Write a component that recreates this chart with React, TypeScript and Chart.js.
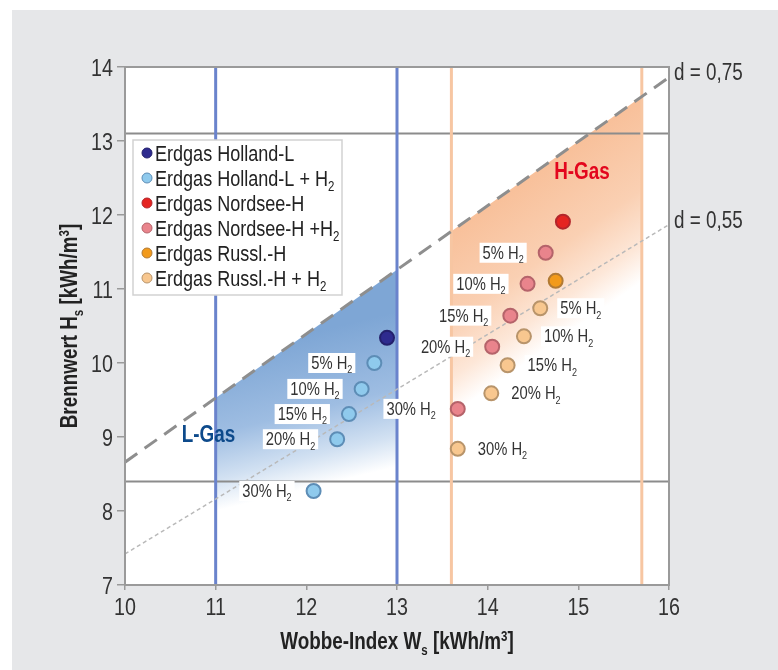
import React, { useEffect, useRef } from 'react';
import { Chart, registerables } from 'chart.js';

Chart.register(...registerables);

const FONT = '"Liberation Sans", Arial, sans-serif';
const SX = 0.82; // horizontal condensing of the text face

// ---------- data ----------
const xTicks = [10, 11, 12, 13, 14, 15, 16];
const yTicks = [7, 8, 9, 10, 11, 12, 13, 14];

const hollandL_W = [12.89];
const hollandL_H = [10.34];
const hollandH2_W = [12.75, 12.61, 12.47, 12.34, 12.08];
const hollandH2_H = [10.0, 9.65, 9.31, 8.97, 8.27];
const nordsee_W = [14.83];
const nordsee_H = [11.91];
const nordseeH2_W = [14.64, 14.44, 14.25, 14.05, 13.67];
const nordseeH2_H = [11.49, 11.07, 10.64, 10.22, 9.38];
const russl_W = [14.75];
const russl_H = [11.11];
const russlH2_W = [14.58, 14.4, 14.22, 14.04, 13.67];
const russlH2_H = [10.74, 10.36, 9.97, 9.59, 8.84];
const h2Shares = ['5%', '10%', '15%', '20%', '30%'];

const legendLabels = [
  'Erdgas Holland-L',
  'Erdgas Holland-L + H_2',
  'Erdgas Nordsee-H',
  'Erdgas Nordsee-H +H_2',
  'Erdgas Russl.-H',
  'Erdgas Russl.-H + H_2',
];

// reference lines (relative density d)
const d075_W = [10, 16];
const d075_H = [8.66, 13.86];
const d055_W = [10, 16];
const d055_H = [7.42, 11.87];
const dLabels = ['d = 0,75', 'd = 0,55'];

// gas family bands
const lGas_W = [11, 13];
const hGas_W = [13.6, 15.7];
const hsLimits = [8.4, 13.1];
const lGasFade_W = [11, 13];
const lGasFade_H = [8.0, 8.6];
const hGasFade_W = [13.6, 15.7];
const hGasFade_H = [9.3, 11.1];
const regionLabels = ['L-Gas', 'H-Gas'];
const regionLabel_W = [10.92, 15.04];
const regionLabel_H = [8.93, 12.49];

const xTitle = 'Wobbe-Index W_s [kWh/m^3]';
const yTitle = 'Brennwert H_s [kWh/m^3]';

// ---------- styles ----------
const COLORS = {
  hollandL: ['#2e2b8f', '#23206c'],
  hollandH2: ['#8fcaed', '#5d8db6'],
  nordsee: ['#e52421', '#b3262b'],
  nordseeH2: ['#e9848c', '#b5636a'],
  russl: ['#f29a1b', '#b27a34'],
  russlH2: ['#f8c78f', '#b8946a'],
};
const legendColors = [COLORS.hollandL, COLORS.hollandH2, COLORS.nordsee, COLORS.nordseeH2, COLORS.russl, COLORS.russlH2];

const pts = (W: number[], H: number[]) => W.map((w, i) => ({ x: w, y: H[i] }));

type Seg = { t: string; m: 'n' | 'sub' | 'sup' };
function parse(str: string): Seg[] {
  const out: Seg[] = [];
  let buf = '';
  for (let i = 0; i < str.length; i++) {
    const c = str[i];
    if ((c === '_' || c === '^') && i + 1 < str.length) {
      if (buf) out.push({ t: buf, m: 'n' });
      buf = '';
      out.push({ t: str[i + 1], m: c === '_' ? 'sub' : 'sup' });
      i++;
    } else buf += c;
  }
  if (buf) out.push({ t: buf, m: 'n' });
  return out;
}

const segSize = (s: Seg, size: number) => (s.m === 'n' ? size : Math.round(size * 0.62));

function richWidth(ctx: CanvasRenderingContext2D, str: string, size: number, weight: string) {
  let w = 0;
  for (const s of parse(str)) {
    ctx.font = `${weight} ${segSize(s, size)}px ${FONT}`;
    w += ctx.measureText(s.t).width;
  }
  return w * SX;
}

function drawRich(
  ctx: CanvasRenderingContext2D,
  str: string,
  x: number,
  y: number,
  size: number,
  weight: string,
  color: string,
  align: 'left' | 'right' | 'center' = 'left'
) {
  const total = richWidth(ctx, str, size, weight);
  const x0 = align === 'left' ? x : align === 'right' ? x - total : x - total / 2;
  ctx.save();
  ctx.translate(x0, y);
  ctx.scale(SX, 1);
  ctx.fillStyle = color;
  ctx.textAlign = 'left';
  ctx.textBaseline = 'alphabetic';
  let cx = 0;
  for (const s of parse(str)) {
    ctx.font = `${weight} ${segSize(s, size)}px ${FONT}`;
    const dy = s.m === 'sub' ? size * 0.24 : s.m === 'sup' ? -size * 0.36 : 0;
    ctx.fillText(s.t, cx, dy);
    cx += ctx.measureText(s.t).width;
  }
  ctx.restore();
  return total;
}

function interp(W: number[], H: number[], w: number) {
  return H[0] + ((H[1] - H[0]) * (w - W[0])) / (W[1] - W[0]);
}

function shadeBand(chart: any, band: number[], fadeW: number[], fadeH: number[], stops: [number, string][]) {
  const ctx: CanvasRenderingContext2D = chart.ctx;
  const xs = chart.scales.x;
  const ys = chart.scales.y;
  const px = (v: number) => xs.getPixelForValue(v);
  const py = (v: number) => ys.getPixelForValue(v);
  const top = (w: number) => interp(d075_W, d075_H, w);
  const [w0, w1] = band;
  const a = chart.chartArea;
  ctx.save();
  ctx.beginPath();
  ctx.rect(a.left, a.top, a.right - a.left, a.bottom - a.top);
  ctx.clip();
  ctx.beginPath();
  ctx.moveTo(px(w0), py(top(w0)));
  ctx.lineTo(px(w1), py(top(w1)));
  ctx.lineTo(px(w1), py(ys.min));
  ctx.lineTo(px(w0), py(ys.min));
  ctx.closePath();
  const wm = (w0 + w1) / 2;
  const S = [px(wm), py(top(wm))];
  const A = [px(fadeW[0]), py(fadeH[0])];
  const B = [px(fadeW[1]), py(fadeH[1])];
  const dx = B[0] - A[0];
  const dy = B[1] - A[1];
  const t = ((S[0] - A[0]) * dx + (S[1] - A[1]) * dy) / (dx * dx + dy * dy);
  const F = [A[0] + t * dx, A[1] + t * dy];
  const g = ctx.createLinearGradient(S[0], S[1], F[0], F[1]);
  for (const [o, c] of stops) g.addColorStop(o, c);
  ctx.fillStyle = g;
  ctx.fill();
  ctx.restore();
}

const bgPlugin = {
  id: 'bgPlugin',
  beforeDraw(chart: any) {
    const ctx: CanvasRenderingContext2D = chart.ctx;
    ctx.save();
    ctx.fillStyle = '#ffffff';
    ctx.fillRect(0, 0, chart.width, chart.height);
    ctx.fillStyle = '#e6e7e9';
    ctx.fillRect(12, 10, chart.width - 12, chart.height - 10);
    const a = chart.chartArea;
    ctx.fillStyle = '#ffffff';
    ctx.fillRect(a.left, a.top, a.right - a.left, a.bottom - a.top);
    ctx.restore();
  },
  beforeDatasetsDraw(chart: any) {
    shadeBand(chart, lGas_W, lGasFade_W, lGasFade_H, [
      [0, '#7ea6d5'],
      [0.5, '#9ebde2'],
      [0.8, '#d2e1f2'],
      [1, '#ffffff'],
    ]);
    shadeBand(chart, hGas_W, hGasFade_W, hGasFade_H, [
      [0, '#f8c09a'],
      [0.5, '#fad0b3'],
      [0.8, '#fde7d8'],
      [1, '#ffffff'],
    ]);
  },
  afterDatasetsDraw(chart: any) {
    const ctx: CanvasRenderingContext2D = chart.ctx;
    const xs = chart.scales.x;
    const ys = chart.scales.y;
    const px = (v: number) => xs.getPixelForValue(v);
    const py = (v: number) => ys.getPixelForValue(v);
    const a = chart.chartArea;
    ctx.save();
    // frame
    ctx.strokeStyle = '#9a9a9a';
    ctx.lineWidth = 2;
    ctx.strokeRect(a.left, a.top, a.right - a.left, a.bottom - a.top);

    // tick labels
    xTicks.forEach((v) => drawRich(ctx, String(v), px(v), a.bottom + 30, 24, 'normal', '#333333', 'center'));
    yTicks.forEach((v) => drawRich(ctx, String(v), a.left - 12, py(v) + 8.5, 24, 'normal', '#333333', 'right'));

    // point labels
    const labelSize = 18;
    const putLabel = (w: number, h: number, txt: string, side: 'left' | 'right') => {
      const x = px(w);
      const y = py(h);
      const tw = richWidth(ctx, txt, labelSize, 'normal');
      const bw = tw + 6;
      const bh = 20;
      const bx = side === 'left' ? x - 19 - bw : x + 17;
      ctx.fillStyle = '#ffffff';
      ctx.fillRect(bx, y - bh / 2, bw, bh);
      drawRich(ctx, txt, bx + 3, y + 6, labelSize, 'normal', '#333333', 'left');
    };
    h2Shares.forEach((s, i) => putLabel(hollandH2_W[i], hollandH2_H[i], `${s} H_2`, 'left'));
    h2Shares.forEach((s, i) => putLabel(nordseeH2_W[i], nordseeH2_H[i], `${s} H_2`, 'left'));
    h2Shares.forEach((s, i) => putLabel(russlH2_W[i], russlH2_H[i], `${s} H_2`, 'right'));

    // region labels
    drawRich(ctx, regionLabels[0], px(regionLabel_W[0]), py(regionLabel_H[0]), 23, 'bold', '#0d4a8b', 'center');
    drawRich(ctx, regionLabels[1], px(regionLabel_W[1]), py(regionLabel_H[1]), 23, 'bold', '#e3061d', 'center');

    // d labels
    drawRich(ctx, dLabels[0], a.right + 5, py(d075_H[1]) + 3, 23, 'normal', '#333333', 'left');
    drawRich(ctx, dLabels[1], a.right + 5, py(d055_H[1]) + 3, 23, 'normal', '#333333', 'left');

    // legend
    const lx = a.left + 8;
    const ly = a.top + 73;
    ctx.fillStyle = '#ffffff';
    ctx.fillRect(lx, ly, 209, 155);
    ctx.strokeStyle = '#d2d2d2';
    ctx.lineWidth = 1.5;
    ctx.strokeRect(lx, ly, 209, 155);
    legendLabels.forEach((l, i) => {
      const cy = ly + 13 + i * 25;
      ctx.beginPath();
      ctx.arc(lx + 14, cy, 5, 0, Math.PI * 2);
      ctx.fillStyle = legendColors[i][0];
      ctx.fill();
      ctx.lineWidth = 1;
      ctx.strokeStyle = legendColors[i][1];
      ctx.stroke();
      drawRich(ctx, l, lx + 22, cy + 8, 22, 'normal', '#222222', 'left');
    });
    ctx.restore();
  },
  afterDraw(chart: any) {
    const ctx: CanvasRenderingContext2D = chart.ctx;
    const a = chart.chartArea;
    ctx.save();
    drawRich(ctx, xTitle, (a.left + a.right) / 2, 649, 23, 'bold', '#222222', 'center');
    ctx.translate(77, (a.top + a.bottom) / 2);
    ctx.rotate(-Math.PI / 2);
    drawRich(ctx, yTitle, 0, 0, 23, 'bold', '#222222', 'center');
    ctx.restore();
  },
};

function pointSet(label: string, W: number[], H: number[], c: string[]) {
  return {
    label,
    data: pts(W, H),
    backgroundColor: c[0],
    borderColor: c[1],
    borderWidth: 2,
    pointRadius: 7,
    order: 0,
  };
}

function lineSet(data: { x: number; y: number }[], color: string, width: number, dash: number[] = []) {
  return {
    data,
    showLine: true,
    borderColor: color,
    borderWidth: width,
    borderDash: dash,
    pointRadius: 0,
    order: 10,
  };
}

export default function App() {
  const ref = useRef<HTMLCanvasElement>(null);
  useEffect(() => {
    document.body.style.margin = '0';
    const canvas = ref.current!;
    const chart = new Chart(canvas, {
      type: 'scatter',
      data: {
        datasets: [
          pointSet(legendLabels[0], hollandL_W, hollandL_H, COLORS.hollandL),
          pointSet(legendLabels[1], hollandH2_W, hollandH2_H, COLORS.hollandH2),
          pointSet(legendLabels[2], nordsee_W, nordsee_H, COLORS.nordsee),
          pointSet(legendLabels[3], nordseeH2_W, nordseeH2_H, COLORS.nordseeH2),
          pointSet(legendLabels[4], russl_W, russl_H, COLORS.russl),
          pointSet(legendLabels[5], russlH2_W, russlH2_H, COLORS.russlH2),
          lineSet(pts(d075_W, d075_H), '#8e8e8e', 3, [15, 9]),
          lineSet(pts(d055_W, d055_H), '#b9b9b9', 1.5, [4, 3]),
          lineSet(pts([lGas_W[0], lGas_W[0]], [7, 14]), '#6a83cc', 3),
          lineSet(pts([lGas_W[1], lGas_W[1]], [7, 14]), '#6a83cc', 3),
          lineSet(pts([hGas_W[0], hGas_W[0]], [7, 14]), '#f7c6a2', 3),
          lineSet(pts([hGas_W[1], hGas_W[1]], [7, 14]), '#f7c6a2', 3),
          lineSet(pts([10, 16], [hsLimits[0], hsLimits[0]]), '#8c8c8c', 2),
          lineSet(pts([10, 16], [hsLimits[1], hsLimits[1]]), '#8c8c8c', 2),
        ] as any,
      },
      options: {
        animation: false,
        responsive: false,
        devicePixelRatio: 1,
        events: [],
        layout: { padding: { top: 67, right: 109, left: 0, bottom: 0 } },
        plugins: { legend: { display: false }, tooltip: { enabled: false } },
        scales: {
          x: {
            type: 'linear',
            min: xTicks[0],
            max: xTicks[xTicks.length - 1],
            afterBuildTicks: (s: any) => {
              s.ticks = xTicks.map((v) => ({ value: v }));
            },
            afterFit: (s: any) => {
              s.height = 85;
            },
            ticks: { display: false },
            grid: { drawOnChartArea: false, drawTicks: true, tickLength: 5, color: '#9a9a9a', lineWidth: 1.5 },
            border: { display: true, color: '#9a9a9a', width: 2 },
          },
          y: {
            type: 'linear',
            min: yTicks[0],
            max: yTicks[yTicks.length - 1],
            afterBuildTicks: (s: any) => {
              s.ticks = yTicks.map((v) => ({ value: v }));
            },
            afterFit: (s: any) => {
              s.width = 125;
            },
            ticks: { display: false },
            grid: { drawOnChartArea: false, drawTicks: true, tickLength: 8, color: '#9a9a9a', lineWidth: 1.5 },
            border: { display: true, color: '#9a9a9a', width: 2 },
          },
        },
      } as any,
      plugins: [bgPlugin],
    });
    return () => chart.destroy();
  }, []);
  return <canvas ref={ref} width={778} height={670} style={{ display: 'block', width: 778, height: 670 }} />;
}
